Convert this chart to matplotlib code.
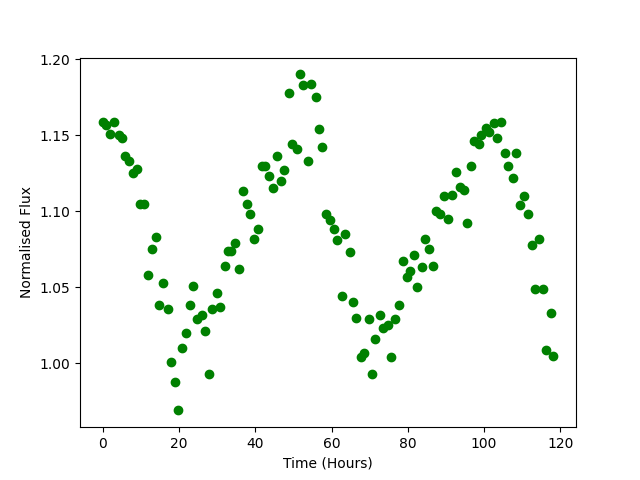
import matplotlib
matplotlib.use('Agg')
import matplotlib.pyplot as plt

# time in hours and normalised flux
time = [-0.1, 0.8, 1.8, 3.0, 4.1, 4.9, 5.8, 6.9, 8.0, 9.0,
        9.7, 10.8, 11.9, 12.9, 14.0, 14.7, 15.8, 17.0, 17.9, 18.9,
        19.7, 20.8, 21.8, 22.8, 23.7, 24.8, 25.9, 26.9, 27.9, 28.6,
        29.8, 30.8, 31.9, 32.8, 33.7, 34.7, 35.8, 36.8, 37.7, 38.5,
        39.7, 40.8, 41.8, 42.6, 43.7, 44.7, 45.8, 46.8, 47.6, 48.7,
        49.7, 50.8, 51.7, 52.5, 53.7, 54.7, 55.8, 56.8, 57.6, 58.6,
        59.6, 60.7, 61.5, 62.6, 63.6, 64.7, 65.7, 66.5, 67.6, 68.6,
        69.7, 70.7, 71.5, 72.6, 73.6, 74.7, 75.7, 76.5, 77.6, 78.6,
        79.8, 80.5, 81.5, 82.5, 83.6, 84.6, 85.5, 86.5, 87.4, 88.5,
        89.5, 90.5, 91.6, 92.6, 93.6, 94.7, 95.4, 96.5, 97.4, 98.6,
        99.3, 100.4, 101.4, 102.5, 103.5, 104.4, 105.4, 106.4, 107.5, 108.5,
        109.3, 110.4, 111.4, 112.5, 113.4, 114.4, 115.5, 116.3, 117.5, 118.2]
flux = [1.159, 1.157, 1.151, 1.159, 1.150, 1.148, 1.136, 1.133, 1.125, 1.128,
        1.105, 1.105, 1.058, 1.075, 1.083, 1.038, 1.053, 1.036, 1.001, 0.988,
        0.969, 1.010, 1.020, 1.038, 1.051, 1.029, 1.032, 1.021, 0.993, 1.036,
        1.046, 1.037, 1.064, 1.074, 1.074, 1.079, 1.062, 1.113, 1.105, 1.098,
        1.082, 1.088, 1.130, 1.130, 1.123, 1.115, 1.136, 1.120, 1.127, 1.178,
        1.144, 1.141, 1.190, 1.183, 1.133, 1.184, 1.175, 1.154, 1.142, 1.098,
        1.094, 1.088, 1.081, 1.044, 1.085, 1.073, 1.040, 1.030, 1.004, 1.007,
        1.029, 0.993, 1.016, 1.032, 1.023, 1.025, 1.004, 1.029, 1.038, 1.067,
        1.057, 1.061, 1.071, 1.050, 1.063, 1.082, 1.075, 1.064, 1.100, 1.098,
        1.110, 1.095, 1.111, 1.126, 1.116, 1.114, 1.092, 1.130, 1.146, 1.144,
        1.150, 1.155, 1.152, 1.158, 1.148, 1.159, 1.138, 1.130, 1.122, 1.138,
        1.104, 1.110, 1.098, 1.078, 1.049, 1.082, 1.049, 1.009, 1.033, 1.005]

plt.figure(figsize=(6.4, 4.8), dpi=100)
plt.plot(time, flux, 'o', color='green')
plt.xlabel('Time (Hours)')
plt.ylabel('Normalised Flux')
plt.savefig('out.png')
